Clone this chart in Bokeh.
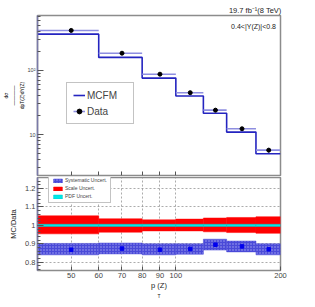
import numpy as np
from bokeh.plotting import figure
from bokeh.models import (ColumnDataSource, FixedTicker, Label, Legend, LegendItem,
                          Range1d, Title)
from bokeh.layouts import column
from bokeh.embed import file_html
from bokeh.resources import INLINE

# ---------------- data ----------------
bin_lo = [40, 60, 80, 100, 120, 140, 170]
bin_hi = [60, 80, 100, 120, 140, 170, 200]
pt_center = [50, 70, 90, 110, 130, 155, 185]
mcfm = [369, 160, 76, 40, 21.5, 10.9, 5.0]
data = [422, 186, 87.5, 45, 24, 12.3, 5.7]
data_err = [22, 10, 5, 2.8, 1.6, 0.85, 0.45]

ratio = [0.868, 0.874, 0.868, 0.872, 0.895, 0.886, 0.870]
syst_lo = [0.840, 0.845, 0.840, 0.843, 0.866, 0.856, 0.840]
syst_hi = [0.902, 0.904, 0.900, 0.900, 0.925, 0.915, 0.900]
scale_lo = [0.954, 0.963, 0.970, 0.970, 0.965, 0.961, 0.957]
scale_hi = [1.052, 1.036, 1.030, 1.034, 1.040, 1.043, 1.047]
pdf_lo = [0.994, 0.994, 0.994, 0.994, 0.994, 0.994, 0.994]
pdf_hi = [1.006, 1.006, 1.006, 1.006, 1.006, 1.006, 1.006]

x_ticks = [50, 60, 70, 80, 90, 100, 200]
x_tick_labels = ["50", "60", "70", "80", "90", "100", "200"]
y1_ticks = [10, 100]
y1_tick_labels = ["10", "10²"]
y2_ticks = [0.8, 0.9, 1.0, 1.1, 1.2]
y2_tick_labels = ["0.8", "0.9", "1", "1.1", "1.2"]

FONT = "Liberation Sans"
FRAME = "#8c8c8c"
AXIS = "#7a7aa8"
TXT = "#222222"

src = ColumnDataSource(dict(lo=bin_lo, hi=bin_hi, c=pt_center, mc=mcfm, d=data,
                            dlo=[a - b for a, b in zip(data, data_err)],
                            dhi=[a + b for a, b in zip(data, data_err)],
                            r=ratio, slo=syst_lo, shi=syst_hi,
                            sclo=scale_lo, schi=scale_hi, plo=pdf_lo, phi=pdf_hi))

Y1_MIN, Y1_MAX = 2.29, 722
Y2_MIN, Y2_MAX = 0.755, 1.26

# ---------------- upper panel ----------------
p1 = figure(width=300, height=176, x_axis_type="log", y_axis_type="log",
            x_range=Range1d(40, 200), y_range=Range1d(Y1_MIN, Y1_MAX),
            output_backend="svg", toolbar_location=None,
            min_border_left=34, min_border_right=20, min_border_top=15, min_border_bottom=1)
p1.grid.visible = False
p1.outline_line_color = FRAME
p1.outline_line_width = 1.5

p1.xaxis.fixed_location = Y1_MIN
p1.xaxis.ticker = FixedTicker(ticks=x_ticks[:-1], minor_ticks=[])
p1.xaxis.major_label_overrides = {t: "" for t in x_ticks[:-1]}
p1.xaxis.major_label_text_font_size = "0px"
p1.xaxis.major_label_standoff = 0
p1.xaxis.major_tick_in = 4
p1.xaxis.major_tick_out = 0
p1.xaxis.minor_tick_in = 0
p1.xaxis.minor_tick_out = 0
p1.xaxis.axis_line_color = FRAME
p1.xaxis.major_tick_line_color = "#555555"

minor_log = [v * m for v in (1, 10, 100) for m in range(2, 10)]
p1.yaxis.ticker = FixedTicker(ticks=y1_ticks, minor_ticks=minor_log)
p1.yaxis.major_label_overrides = dict(zip(y1_ticks, y1_tick_labels))
p1.yaxis.major_label_text_font = FONT
p1.yaxis.major_label_text_font_size = "5.5px"
p1.yaxis.major_label_standoff = 2
p1.yaxis.major_tick_in = 6
p1.yaxis.major_tick_out = 0
p1.yaxis.minor_tick_in = 3
p1.yaxis.minor_tick_out = 0
p1.yaxis.axis_line_color = AXIS
p1.yaxis.axis_line_width = 1.5
p1.yaxis.major_tick_line_color = "#555555"
p1.yaxis.minor_tick_line_color = "#555555"

mc_r = p1.step(x=bin_lo + [bin_hi[-1]], y=mcfm + [mcfm[-1]], mode="after",
               line_color="#2424c0", line_width=1.6)
xerr_r = p1.segment(x0="lo", x1="hi", y0="d", y1="d", source=src,
                    line_color="#8e8ee0", line_width=1.6)
yerr_r = p1.segment(x0="c", x1="c", y0="dlo", y1="dhi", source=src,
                    line_color="#2a2aa8", line_width=1.2)
pt_r = p1.scatter(x="c", y="d", source=src, size=4, marker="circle",
                  fill_color="black", line_color="black")

leg1 = Legend(items=[LegendItem(label="MCFM", renderers=[mc_r]),
                     LegendItem(label="Data", renderers=[xerr_r, pt_r])],
              location=(29, 51), orientation="vertical",
              label_text_font=FONT, label_text_font_size="10px",
              glyph_width=12, glyph_height=12, label_height=12, label_width=40,
              label_standoff=2, spacing=4, padding=6, margin=0,
              border_line_color="#888888", border_line_width=1,
              background_fill_color="white", background_fill_alpha=1)
p1.add_layout(leg1, "center")

p1.add_layout(Label(x=200, y=Y1_MAX, x_offset=-4.5, y_offset=-11, text="0.4<|Y(Z)|<0.8",
                    text_align="right", text_baseline="middle",
                    text_font=FONT, text_font_size="7px", text_color=TXT))
p1.add_layout(Title(text="19.7 fb⁻¹(8 TeV)", align="right", offset=-1, standoff=1,
                    text_font=FONT, text_font_size="7.5px", text_font_style="normal",
                    text_color=TXT), "above")
# rotated fraction y-title (nearest first)
for t in ["dpT(Z)dY(Z)", "————", "dσ"]:
    p1.add_layout(Title(text=t, align="center", offset=0, standoff=0,
                        text_font=FONT, text_font_size="5px", text_font_style="normal",
                        text_color="black", text_line_height=0.75), "left")

# ---------------- lower panel ----------------
p2 = figure(width=300, height=124, x_axis_type="log",
            x_range=Range1d(40, 200), y_range=Range1d(Y2_MIN, Y2_MAX),
            output_backend="svg", toolbar_location=None,
            min_border_left=34, min_border_right=20, min_border_top=1, min_border_bottom=28)
p2.outline_line_color = FRAME
p2.outline_line_width = 1.5

p2.xaxis.ticker = FixedTicker(ticks=x_ticks, minor_ticks=[])
p2.xaxis.major_label_overrides = dict(zip(x_ticks, x_tick_labels))
p2.xaxis.major_label_text_font = FONT
p2.xaxis.major_label_text_font_size = "7.5px"
p2.xaxis.major_label_standoff = 2
p2.xaxis.major_tick_in = 4
p2.xaxis.major_tick_out = 0
p2.xaxis.axis_line_color = FRAME
p2.xaxis.major_tick_line_color = "#555555"
p2.xaxis.axis_label = "p\u00a0(Z)"
p2.xaxis.axis_label_standoff = 0
p2.xaxis.axis_label_text_font = FONT
p2.xaxis.axis_label_text_font_size = "7.5px"
p2.xaxis.axis_label_text_font_style = "normal"
p2.xaxis.axis_label_text_color = TXT
p2.xaxis.axis_label_text_line_height = 0.75
p2.add_layout(Title(text="T", align="center", offset=-3, standoff=0, vertical_align="top",
                    text_font=FONT, text_font_size="5px", text_font_style="normal",
                    text_color=TXT, text_line_height=0.6), "below")

p2.yaxis.ticker = FixedTicker(ticks=y2_ticks,
                              minor_ticks=[round(0.76 + 0.02 * i, 2) for i in range(25)])
p2.yaxis.major_label_overrides = dict(zip(y2_ticks, y2_tick_labels))
p2.yaxis.major_label_text_font = FONT
p2.yaxis.major_label_text_font_size = "7.5px"
p2.yaxis.major_label_standoff = 2
p2.yaxis.major_tick_in = 6
p2.yaxis.major_tick_out = 0
p2.yaxis.minor_tick_in = 3
p2.yaxis.minor_tick_out = 0
p2.yaxis.axis_line_color = AXIS
p2.yaxis.axis_line_width = 1.5
p2.yaxis.major_tick_line_color = "#555555"
p2.yaxis.minor_tick_line_color = "#555555"
p2.yaxis.axis_label = "MC/Data"
p2.yaxis.axis_label_standoff = 4
p2.yaxis.axis_label_text_font = FONT
p2.yaxis.axis_label_text_font_size = "7.5px"
p2.yaxis.axis_label_text_font_style = "normal"
p2.yaxis.axis_label_text_color = TXT

p2.xgrid.ticker = FixedTicker(ticks=x_ticks[:-1])
p2.ygrid.ticker = FixedTicker(ticks=y2_ticks)
p2.grid.grid_line_color = "#888888"
p2.grid.grid_line_dash = "2 2"
p2.grid.grid_line_width = 0.7

scale_r = p2.quad(left="lo", right="hi", bottom="sclo", top="schi", source=src,
                  fill_color="#ff0000", line_color="#ff0000", line_width=0.5)
pdf_r = p2.quad(left="lo", right="hi", bottom="plo", top="phi", source=src,
                fill_color="#00e8e8", line_color="#00c8c8", line_width=0.5)
syst_r = p2.quad(left="lo", right="hi", bottom="slo", top="shi", source=src,
                 fill_color="#4a4ad8", line_color="#4a4ad8", line_width=0.5,
                 hatch_pattern="dot", hatch_color="#a8a8f0", hatch_scale=3, hatch_weight=0.8)
p2.scatter(x="c", y="r", source=src, marker="square", size=3.5,
           fill_color="#0000ee", line_color="#0000ee")

leg2 = Legend(items=[LegendItem(label="Systematic Uncert.", renderers=[syst_r]),
                     LegendItem(label="Scale Uncert.", renderers=[scale_r]),
                     LegendItem(label="PDF Uncert.", renderers=[pdf_r])],
              location=(11, 67), orientation="vertical",
              label_text_font=FONT, label_text_font_size="5px",
              glyph_width=11, glyph_height=5, label_height=6, label_width=38,
              label_standoff=2, spacing=2, padding=3, margin=0,
              border_line_color="#888888", border_line_width=1,
              background_fill_color="white", background_fill_alpha=1)
p2.add_layout(leg2, "center")

layout = column(p1, p2, spacing=0)
open("out.html", "w").write(file_html(layout, INLINE))
